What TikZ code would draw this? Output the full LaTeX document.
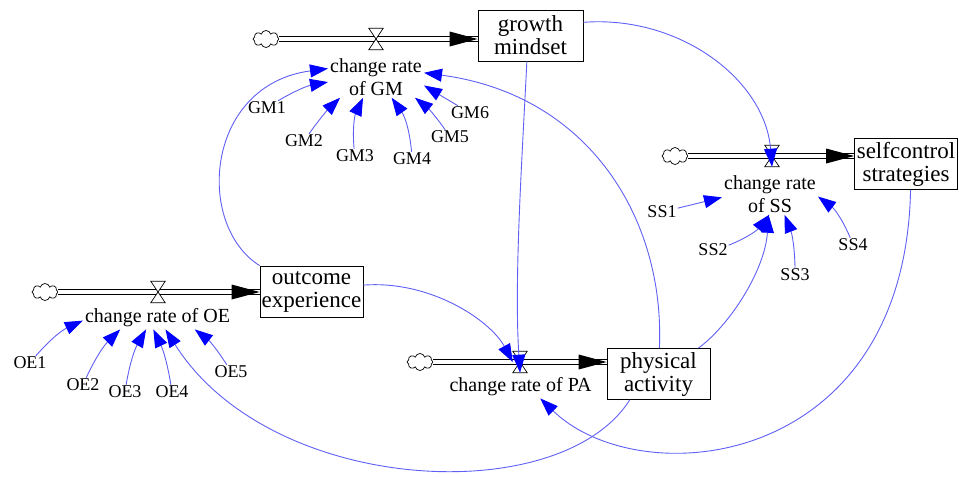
\documentclass[tikz,border=0pt]{standalone}
\usepackage{fontspec}
\setmainfont{Liberation Serif}
\usetikzlibrary{arrows.meta, shapes.symbols, calc}
\definecolor{inflBlue}{RGB}{95,95,245}
\definecolor{tipBlue}{RGB}{0,0,255}
\tikzset{
  stock/.style={draw, line width=0.8pt, minimum width=103pt, minimum height=51pt,
    inner sep=1pt, align=center, font=\fontsize{23}{23}\selectfont},
  rate/.style={align=center, inner sep=2pt, font=\fontsize{20}{23}\selectfont},
  aux/.style={inner sep=1pt, font=\fontsize{18}{20}\selectfont},
  valve/.style={minimum width=14pt, minimum height=21pt, inner sep=0pt},
  source/.style={cloud, cloud puffs=8, cloud ignores aspect, draw, line width=0.7pt,
    minimum width=26pt, minimum height=17pt, inner sep=0pt},
  pipe/.style={double, double distance=3.5pt, line width=0.8pt},
  infl/.style={draw=inflBlue, line width=0.9pt,
    -{Triangle[length=18pt, width=13pt, color=tipBlue]}},
}

\begin{document}
\begin{tikzpicture}[x=1pt, y=-1pt]
  \useasboundingbox (0,0) rectangle (959,477);
  % Stocks
  \node[stock, minimum width=105pt] (GM) at (530.5,35.5) {growth\\mindset};
  \node[stock] (SS) at (906,164) {selfcontrol\\strategies};
  \node[stock] (OE) at (311.5,291.5) {outcome\\experience};
  \node[stock] (PA) at (658.5,374) {physical\\activity};
  % Sources and valves
  \node[source] (cGM) at (266,39) {};
  \node[valve] (vGM) at (376,39) {};
  \node[source] (cSS) at (675,156) {};
  \node[valve] (vSS) at (772,156) {};
  \node[source] (cOE) at (45,292) {};
  \node[valve] (vOE) at (158,292) {};
  \node[source] (cPA) at (420,362) {};
  \node[valve] (vPA) at (520,362) {};
  % Flows
  \foreach \stk in {GM,SS,OE,PA} {
    \coordinate (e\stk) at (\stk.west |- v\stk);
    \draw[pipe] (c\stk) -- (e\stk);
    \fill (e\stk) -- ++(-28,-7.5) -- ++(0,15) -- cycle;
    \draw[fill=white, line width=0.7pt] (v\stk.north west) -- (v\stk.north east)
      -- (v\stk.south west) -- (v\stk.south east) -- cycle;
  }
  % Rates
  \node[rate] (rGM) at (376,77) {change rate\\of GM};
  \node[rate] (rSS) at (770,194) {change rate\\of SS};
  \node[rate] (rOE) at (157.5,318) {change rate of OE};
  \node[rate] (rPA) at (520.5,387) {change rate of PA};
  % Auxiliaries
  \node[aux] (GM1) at (267,108) {GM1};
  \node[aux] (GM2) at (304,141) {GM2};
  \node[aux] (GM3) at (355,156) {GM3};
  \node[aux] (GM4) at (412,159) {GM4};
  \node[aux] (GM5) at (450,137) {GM5};
  \node[aux] (GM6) at (470,113) {GM6};
  \node[aux] (SS1) at (662,212) {SS1};
  \node[aux] (SS2) at (713,250) {SS2};
  \node[aux] (SS3) at (795,275) {SS3};
  \node[aux] (SS4) at (853,245) {SS4};
  \node[aux] (OE1) at (30,363) {OE1};
  \node[aux] (OE2) at (83,385) {OE2};
  \node[aux] (OE3) at (125,392) {OE3};
  \node[aux] (OE4) at (172,392) {OE4};
  \node[aux] (OE5) at (231,372) {OE5};
  % Inputs to the rates
  \foreach \a/\ang/\b in {GM1/186/10, GM2/210/5, GM3/238/15, GM4/307/-15,
      GM5/332/-8, GM6/350/0}
    \draw[infl] (\a) to[bend left=\b] (rGM.\ang);
  \foreach \a/\ang/\b in {SS1/184/0, SS2/268/-15, SS3/305/-10, SS4/357/-15}
    \draw[infl] (\a) to[bend left=\b] (rSS.\ang);
  \foreach \a/\ang/\b in {OE1/182/12, OE2/197/10, OE3/225/10, OE4/250/-8,
      OE5/343/-10}
    \draw[infl] (\a) to[bend left=\b] (rOE.\ang);
  % Feedback links
  \draw[infl] (OE.north west) .. controls (195,225) and (205,85) .. (rGM.170);
  \draw[infl] (PA.88) .. controls (665,220) and (590,95) .. (rGM.5);
  \draw[infl] (GM.262) .. controls (522,160) and (514,280) .. (vPA.south);
  \draw[infl] (GM.14) .. controls (680,15) and (765,80) .. (vSS.south);
  \draw[infl] (PA.33) .. controls (730,325) and (765,270) .. (rSS.266);
  \draw[infl] (SS.280) .. controls (905,470) and (640,495) .. (rPA.330);
  \draw[infl] (PA.222) .. controls (560,510) and (270,495) .. (rOE.305);
  \draw[infl] (OE.7) .. controls (430,280) and (490,320) .. (vPA.west);
\end{tikzpicture}
\end{document}
